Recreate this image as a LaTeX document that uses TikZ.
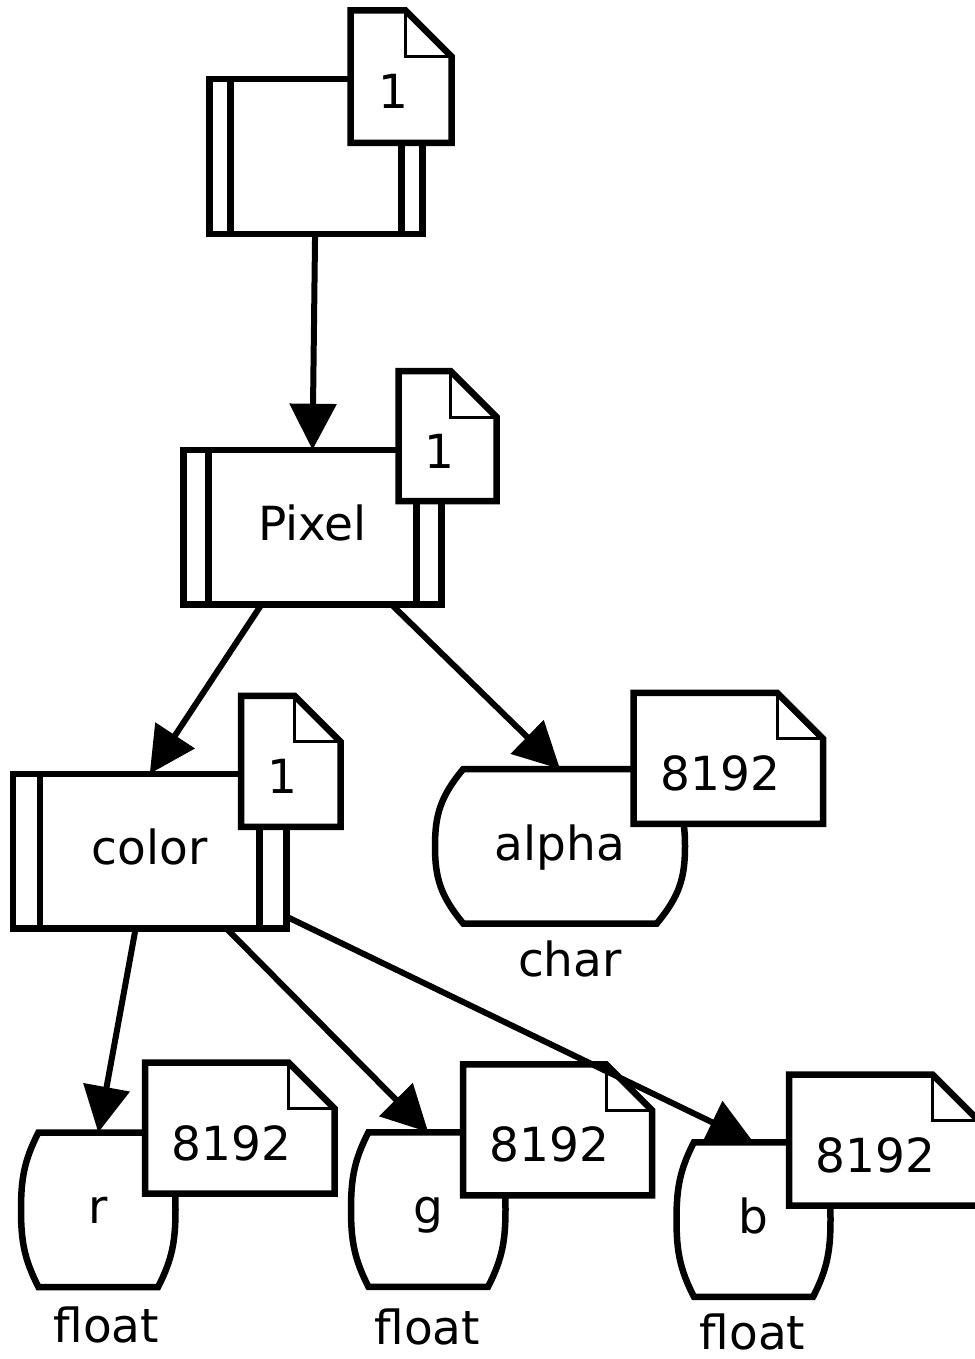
\documentclass[tikz,border=0pt]{standalone}
\usepackage{fontspec}
\setmainfont{DejaVu Sans}
\usepackage{tikz}
\usetikzlibrary{arrows.meta,positioning,calc}
\newcommand\diagfont{\fontsize{47}{50}\selectfont}
\tikzset{
  record/.style={rectangle,draw,fill=white,line width=6.5pt,inner sep=0pt,outer sep=0pt,minimum height=154.5pt,font=\diagfont,text height=36.8pt,text depth=9.2pt,
    path picture={\draw[line width=6.5pt] ([xshift=#1]path picture bounding box.north west) -- ([xshift=#1]path picture bounding box.south west)
      ([xshift=-#1]path picture bounding box.north east) -- ([xshift=-#1]path picture bounding box.south east);}},
  notebox/.style={rectangle,inner sep=0pt,outer sep=0pt,minimum width=#1,minimum height=131pt,font=\diagfont,text height=64pt,text depth=0pt,
    execute at end node={\hspace*{16pt}},
    append after command={\pgfextra{
      \draw[line width=6.5pt,fill=white] (\tikzlastnode.north west) -- ([xshift=-46pt]\tikzlastnode.north east) -- ([yshift=-46pt]\tikzlastnode.north east)
        -- (\tikzlastnode.south east) -- (\tikzlastnode.south west) -- cycle;
      \draw[line width=3pt] ([xshift=-46pt]\tikzlastnode.north east) |- ([yshift=-46pt]\tikzlastnode.north east);}}},
  fieldbox/.style={rectangle,inner sep=0pt,outer sep=0pt,minimum width=#1,minimum height=154.5pt,font=\diagfont,text height=36.8pt,text depth=9.2pt,
    append after command={\pgfextra{
      \draw[line width=6.5pt] let \p1=(\tikzlastnode.north west),\p2=(\tikzlastnode.south east),
        \n1={0.113*(\x2-\x1)},\n2={0.2*(\y1-\y2)},\n3={(\y1+\y2)/2} in
        ({\x1+\n1*1pt},\y1) -- ({\x2-\n1*1pt},\y1)
        .. controls ({\x2-0.18*\n1*1pt},{\y1-0.9*\n2*1pt}) and (\x2,{(\n3+\n2)*1pt}) .. (\x2,{\n3*1pt})
        .. controls (\x2,{(\n3-\n2)*1pt}) and ({\x2-0.18*\n1*1pt},{\y2+0.9*\n2*1pt}) .. ({\x2-\n1*1pt},\y2)
        -- ({\x1+\n1*1pt},\y2)
        .. controls ({\x1+0.18*\n1*1pt},{\y2+0.9*\n2*1pt}) and (\x1,{(\n3-\n2)*1pt}) .. (\x1,{\n3*1pt})
        .. controls (\x1,{(\n3+\n2)*1pt}) and ({\x1+0.18*\n1*1pt},{\y1-0.9*\n2*1pt}) .. cycle;}}},
  typelabel/.style={inner sep=0pt,outer sep=0pt,font=\diagfont,text height=36.8pt,text depth=0pt},
  link/.style={-{Triangle[length=46pt,width=46pt]},line width=6pt}
}
\begin{document}
\begin{tikzpicture}[x=1pt,y=-1pt]
\useasboundingbox (0,0) rectangle (974,1359);
\node[record=21pt,minimum width=213pt] (root) at (316,156.5) {};
\node[notebox=101pt,minimum height=132.5pt] (rootcount) at (401,76.75) {1};
\node[record=25pt,minimum width=258pt] (pixel) at (312.5,527) {Pixel};
\node[notebox=98pt,minimum height=130pt] (pixelcount) at (447.5,436) {1};
\node[record=27pt,minimum width=273.5pt] (color) at (149.75,851) {color};
\node[notebox=99.5pt] (colorcount) at (290.75,761.25) {1};
\node[fieldbox=250pt] (alpha) at (560,846.25) {alpha};
\node[notebox=189.5pt] (alphacount) at (728.25,758.25) {8192};
\node[typelabel,below=16pt of alpha,xshift=10pt] (alphatype) {char};
\node[fieldbox=154.5pt] (r) at (98.25,1209.75) {r};
\node[notebox=189.5pt] (rcount) at (239.75,1128) {8192};
\node[typelabel,below=19pt of r,xshift=8pt] (rtype) {float};
\node[fieldbox=154.5pt] (g) at (428.25,1209.5) {g};
\node[notebox=189pt] (gcount) at (557.5,1129.75) {8192};
\node[typelabel,below=21pt of g,xshift=-1pt] (gtype) {float};
\node[fieldbox=154pt] (b) at (753.5,1219.5) {b};
\node[notebox=189.5pt] (bcount) at (883.75,1140) {8192};
\node[typelabel,below=16pt of b,xshift=-1pt] (btype) {float};
\draw[link] (root) -- (pixel.north);
\draw[link] (pixel) -- (color.north);
\draw[link] (pixel) -- (alpha.north);
\draw[link] (color) -- (r.north);
\draw[link] (color) -- (g.north);
\draw[link] (color) -- (b.north);
\end{tikzpicture}
\end{document}
